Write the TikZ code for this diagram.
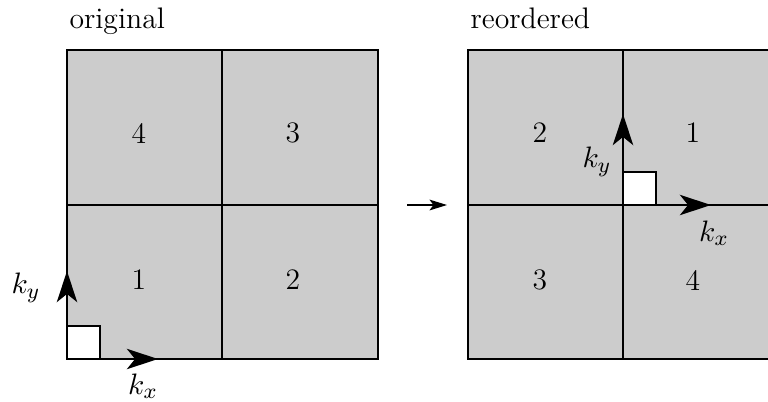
\documentclass[tikz,border=0pt]{standalone}
\usetikzlibrary{arrows.meta}
\begin{document}
\begin{tikzpicture}[x=0.0130208cm,y=-0.0130208cm,
  font=\fontsize{11}{13.5}\selectfont,
  quad/.style={fill=gray!40,draw=black,line width=0.8pt},
  axis/.style={line width=1pt,-{Stealth[length=11.5pt,width=7.5pt,inset=3pt]}},
  box/.style={fill=white,draw=black,line width=0.6pt},
  lbl/.style={inner sep=0pt}]
\useasboundingbox (0,0) rectangle (768,401);
\clip (0,0) rectangle (768,401);
% left square
\draw[quad] (67,50) rectangle (378,359);
\draw[line width=0.8pt] (222,50) -- (222,359);
\draw[line width=0.8pt] (67,205) -- (378,205);
\node[lbl] (l4) at (139,133) {4};
\node[lbl] (l3) at (293,133) {3};
\node[lbl] (l1) at (139,280) {1};
\node[lbl] (l2) at (293,280) {2};
\node[lbl,anchor=base west] (orig) at (69,28) {original};
\draw[box] (67,326) rectangle (100,359);
\coordinate (o1) at (67,359);
\coordinate (ty1) at (67,271);
\coordinate (tx1) at (158,359);
\draw[axis] (o1) -- (ty1);
\draw[axis] (o1) -- (tx1);
\node[lbl] (ky1) at (26,288) {$k_y$};
\node[lbl] (kx1) at (143,386) {$k_x$};
% middle arrow
\coordinate (ma) at (407,205);
\coordinate (mb) at (447,205);
\draw[line width=0.45pt,-{Stealth[length=6.5pt,width=4pt,inset=1.5pt]}] (ma) -- (mb);
% right square
\draw[quad] (468,50) rectangle (778,359);
\draw[line width=0.8pt] (623,50) -- (623,359);
\draw[line width=0.8pt] (468,205) -- (778,205);
\node[lbl] (r2) at (540,133) {2};
\node[lbl] (r1) at (693,133) {1};
\node[lbl] (r3) at (540,280) {3};
\node[lbl] (r4) at (693,280) {4};
\node[lbl,anchor=base west] (reord) at (470,28) {reordered};
\draw[box] (623,172) rectangle (656,205);
\coordinate (o2) at (623,205);
\coordinate (ty2) at (623,114);
\coordinate (tx2) at (711,205);
\draw[axis] (o2) -- (ty2);
\draw[axis] (o2) -- (tx2);
\node[lbl] (ky2) at (597,162) {$k_y$};
\node[lbl] (kx2) at (714,233) {$k_x$};
\end{tikzpicture}
\end{document}
